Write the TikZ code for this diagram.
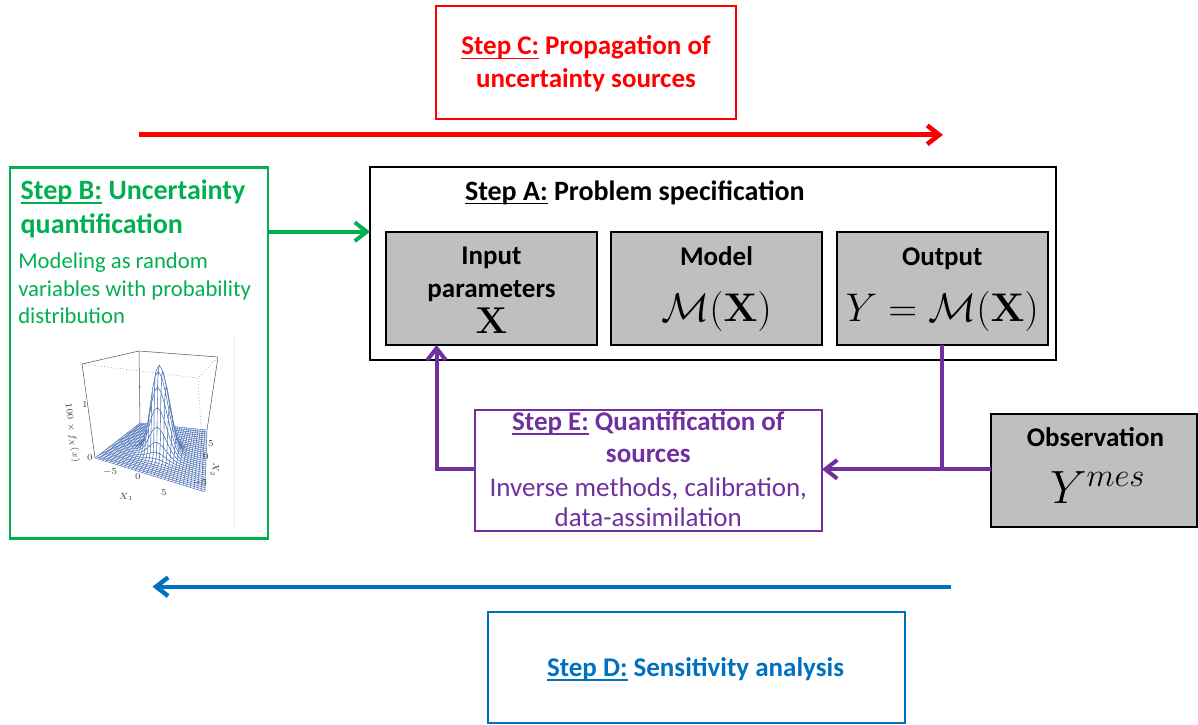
\RequirePackage{fix-cm}
\documentclass[tikz,border=0pt]{standalone}
\usepackage[no-math]{fontspec}
\setmainfont{Carlito}
\usetikzlibrary{arrows.meta}
\definecolor{cRed}{HTML}{FF0000}
\definecolor{cGreen}{HTML}{00B050}
\definecolor{cPurple}{HTML}{7030A0}
\definecolor{cBlue}{HTML}{0070C0}
\definecolor{cGray}{HTML}{BFBFBF}
\definecolor{cMesh}{RGB}{70,110,180}
\newsavebox\ulbox
\newcommand\ulx[1]{\sbox\ulbox{#1}\rlap{\rule[-0.16em]{\wd\ulbox}{0.065em}}\usebox\ulbox}
\newcommand\fA{\fontsize{20.25pt}{24pt}\selectfont}
\newcommand\fT{\fontsize{21pt}{25pt}\selectfont}
\newcommand\fS{\fontsize{17pt}{20pt}\selectfont}
\newcommand\fM{\fontsize{30pt}{36pt}\selectfont}
\newcommand\fX{\fontsize{28pt}{32pt}\selectfont}
\newcommand\fY{\fontsize{35pt}{42pt}\selectfont}
\newcommand\fP{\fontsize{6.8pt}{7pt}\selectfont}
\begin{document}
\begin{tikzpicture}[x=0.75pt,y=-0.75pt,
  box/.style={draw,line width=1.6pt,inner sep=0pt,outer sep=0pt},
  gbox/.style={box,fill=cGray,line width=1.8pt},
  txt/.style={inner sep=0pt,outer sep=0pt,anchor=base},
  barb/.style={-{Straight Barb[length=9pt,width=14pt]}},
  meshq/.style={fill=white,draw=cMesh,line width=0.3pt,line join=round},
  lbl/.style={inner sep=0pt,font=\fP,text=black!75},
  frame/.style={black!65,line width=0.4pt}
]
\useasboundingbox (0,0) rectangle (1198,724);

% ---------- Step C ----------
\node[box,draw=cRed,minimum width=300*0.75pt,minimum height=113*0.75pt] (C) at (586,62.5) {};
\node[txt,text=cRed,font=\fA\bfseries] (C1) at (586,55) {\ulx{Step C:} Propagation of};
\node[txt,text=cRed,font=\fA\bfseries] (C2) at (586,87.3) {uncertainty sources};
\coordinate (Rs) at (139,134.8);
\coordinate (Re) at (943,134.8);
\draw[cRed,line width=3.5pt,barb] (Rs) -- (Re);

% ---------- Step A ----------
\node[box,line width=2pt,minimum width=686*0.75pt,minimum height=193*0.75pt] (A) at (713,263.5) {};
\node[txt,anchor=base west,font=\fT\bfseries] (A1) at (465,200) {\ulx{Step A:} Problem specification};

\node[gbox,minimum width=211*0.75pt,minimum height=113*0.75pt] (In) at (491.5,288.5) {};
\node[gbox,minimum width=211*0.75pt,minimum height=113*0.75pt] (Mo) at (716.5,288.5) {};
\node[gbox,minimum width=211*0.75pt,minimum height=113*0.75pt] (Out) at (942.3,288.5) {};
\node[txt,font=\fA\bfseries] (In1) at (491.5,264) {Input};
\node[txt,font=\fA\bfseries] (In2) at (491.5,297.5) {parameters};
\node[txt,font=\fX] (In3) at (491.5,333.3) {$\mathbf{X}$};
\node[txt,font=\fA\bfseries] (Mo1) at (716.5,265) {Model};
\node[txt,font=\fM] (Mo2) at (716.5,321.7) {$\mathcal{M}(\mathbf{X})$};
\node[txt,font=\fA\bfseries] (Out1) at (942.3,265) {Output};
\node[txt,font=\fM] (Out2) at (942.3,321.7) {$Y=\mathcal{M}(\mathbf{X})$};

% ---------- Step B ----------
\node[box,draw=cGreen,minimum width=258*0.75pt,minimum height=371*0.75pt] (B) at (139,353) {};
\node[txt,anchor=base west,text=cGreen,font=\fT\bfseries] (B1) at (20.7,199.3) {\ulx{Step B:} Uncertainty};
\node[txt,anchor=base west,text=cGreen,font=\fT\bfseries] (B2) at (20.7,233.3) {quantification};
\node[txt,anchor=base west,text=cGreen,font=\fS] (B3) at (18.3,268.3) {Modeling as random};
\node[txt,anchor=base west,text=cGreen,font=\fS] (B4) at (18.3,296.7) {variables with probability};
\node[txt,anchor=base west,text=cGreen,font=\fS] (B5) at (18.3,323.3) {distribution};
\coordinate (gy) at (0,231.7);
\draw[cGreen,line width=3pt,barb] (B.east |- gy) -- (A.west |- gy);

% ---------- 3D density plot ----------
\draw[black!8,line width=0.6pt] (234.7,335) -- (234.7,527);
\coordinate (bL) at (95,458);  \coordinate (bF) at (205,492);
\coordinate (bR) at (207,430); \coordinate (bB) at (140,423);
\coordinate (tL) at (82,364);  \coordinate (tF) at (198,378);
\coordinate (tR) at (218,357); \coordinate (tB) at (139,351);
\draw[frame] (tL) -- (tB) -- (tR) -- (bR);
\draw[frame] (tL) -- (bL);
\draw[frame] (tB) -- (bB);
\foreach \i in {0,...,30}{
  \foreach \j in {0,...,30}{
    \pgfmathsetmacro\mU{\i/30}
    \pgfmathsetmacro\mV{\j/30}
    \pgfmathsetmacro\mA{(1-\mU)*(1-\mV)}
    \pgfmathsetmacro\mB{\mU*(1-\mV)}
    \pgfmathsetmacro\mC{\mU*\mV}
    \pgfmathsetmacro\mD{(1-\mU)*\mV}
    \pgfmathsetmacro\mR{min(((\mU-0.5)^2+(\mV-0.5)^2)/0.0162,9)}
    \pgfmathsetmacro\mW{0.97*exp(-\mR)}
    \pgfmathsetmacro\mBx{\mA*95+\mB*205+\mC*207+\mD*140}
    \pgfmathsetmacro\mBy{\mA*458+\mB*492+\mC*430+\mD*423}
    \pgfmathsetmacro\mTx{\mA*82+\mB*198+\mC*218+\mD*139}
    \pgfmathsetmacro\mTy{\mA*364+\mB*378+\mC*357+\mD*351}
    \coordinate (m-\i-\j) at ({\mBx+\mW*(\mTx-\mBx)},{\mBy+\mW*(\mTy-\mBy)});
  }
}
\foreach \k in {0,...,58}{
  \foreach \i in {0,...,29}{
    \pgfmathtruncatemacro\mJ{29-\k+\i}
    \ifnum\mJ<0 \else\ifnum\mJ>29 \else
      \pgfmathtruncatemacro\mIn{\i+1}
      \pgfmathtruncatemacro\mJn{\mJ+1}
      \filldraw[meshq] (m-\i-\mJ) -- (m-\mIn-\mJ) -- (m-\mIn-\mJn) -- (m-\i-\mJn) -- cycle;
    \fi\fi
  }
}
\draw[frame,dotted] (tL) -- (tF) -- (tR);
\draw[frame,dotted] (tF) -- (bF);
\node[lbl] (zl1) at (85,405) {$1$};
\node[lbl] (zl0) at (90,458) {$0$};
\node[lbl,rotate=-82] (zlab) at (72,433) {$100\times f_X(x)$};
\node[lbl] (x1a) at (110,472) {$-5$};
\node[lbl] (x1b) at (138,477) {$0$};
\node[lbl] (x1c) at (164,493) {$5$};
\node[lbl] (x1l) at (126,497) {$X_1$};
\node[lbl] (x2a) at (211,444) {$5$};
\node[lbl] (x2b) at (206,457) {$0$};
\node[lbl] (x2c) at (200,483) {$-5$};
\node[lbl,rotate=-95] (x2l) at (215,470) {$X_2$};

% ---------- Step E ----------
\node[box,draw=cPurple,minimum width=347*0.75pt,minimum height=121*0.75pt] (E) at (648.5,470.3) {};
\node[txt,text=cPurple,font=\fA\bfseries] (E1) at (648.3,430.7) {\ulx{Step E:} Quantification of};
\node[txt,text=cPurple,font=\fA\bfseries] (E2) at (648.3,462.7) {sources};
\node[txt,text=cPurple,font=\fA] (E3) at (648.3,496) {Inverse methods, calibration,};
\node[txt,text=cPurple,font=\fA] (E4) at (648.3,526.7) {data-assimilation};

% ---------- Observation ----------
\node[gbox,minimum width=206*0.75pt,minimum height=113*0.75pt] (Obs) at (1094,470.5) {};
\node[txt,font=\fA\bfseries] (Obs1) at (1095.5,446.7) {Observation};
\node[txt,anchor=base west,font=\fY] (Obs2) at (1050,503.3) {$Y^{mes}$};

\coordinate (py) at (0,469.3);
\coordinate (ix) at (436.5,0);
\draw[cPurple,line width=3pt] (Out.south) -- (Out.south |- py);
\draw[cPurple,line width=3pt,barb] (Obs.west |- py) -- (E.east |- py);
\draw[cPurple,line width=3pt,barb] (E.west |- py) -| (ix |- In.south);

% ---------- Step D ----------
\coordinate (Bs) at (951,586.7);
\coordinate (Be) at (152.5,586.7);
\draw[cBlue,line width=3.3pt,barb] (Bs) -- (Be);
\node[box,draw=cBlue,minimum width=417*0.75pt,minimum height=111*0.75pt] (D) at (696.5,667.5) {};
\node[txt,text=cBlue,font=\fA\bfseries] (D1) at (695.5,676.7) {\ulx{Step D:} Sensitivity analysis};
\end{tikzpicture}
\end{document}
